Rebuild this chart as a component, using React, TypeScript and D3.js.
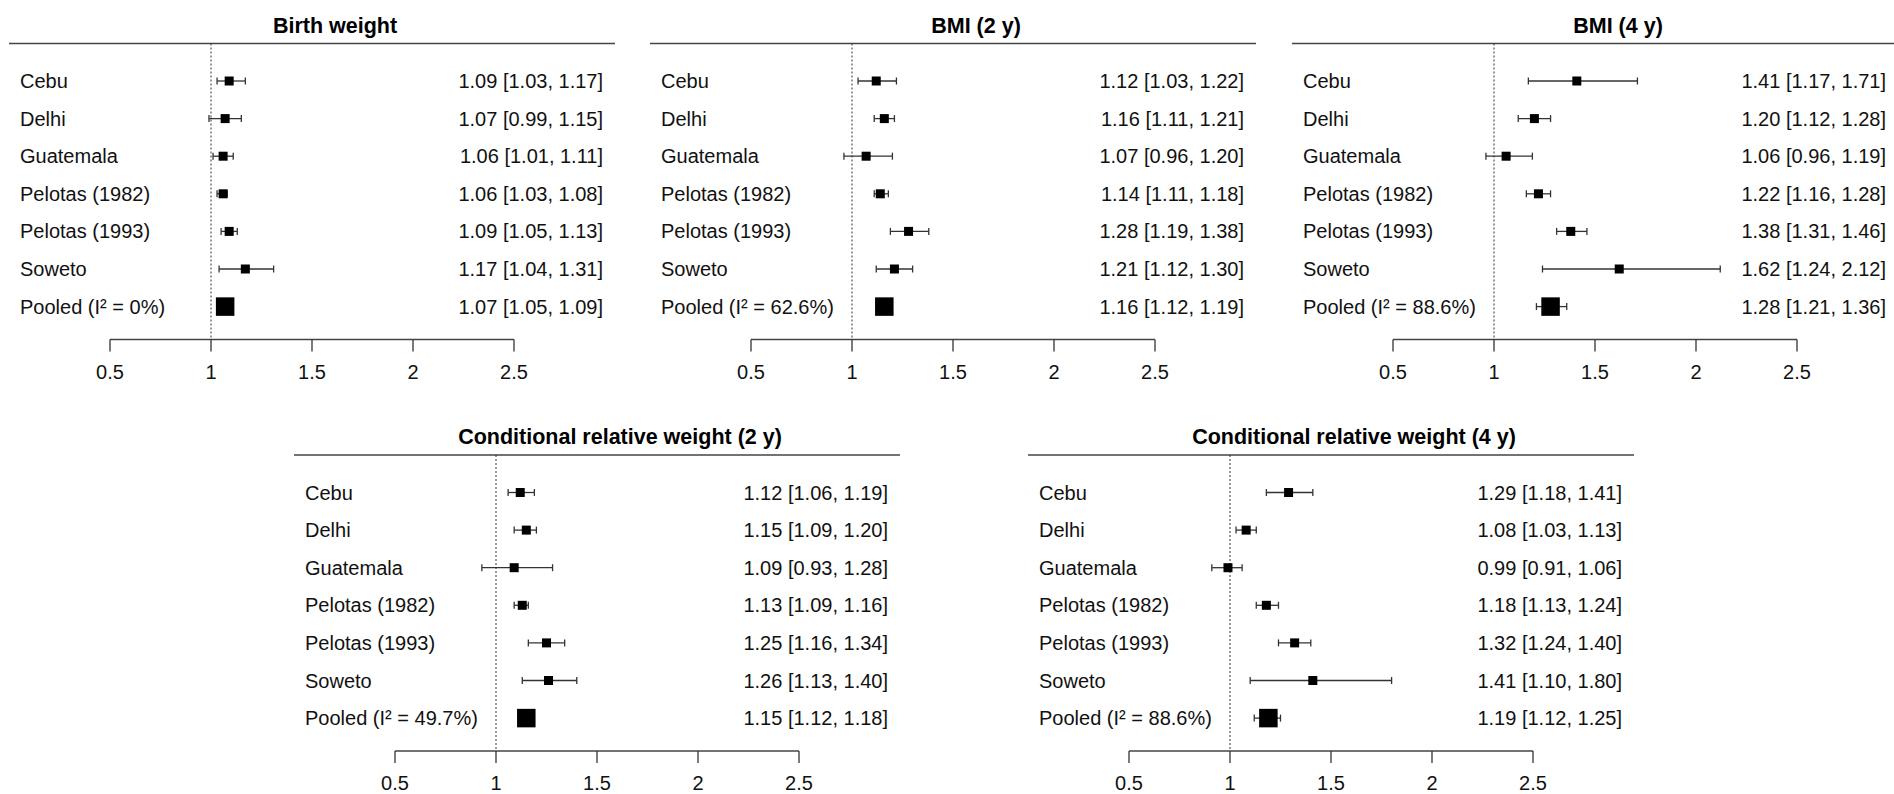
import { scaleLinear, scalePoint } from "d3";

const width = 1894;
const height = 794;

const studies = ["Cebu", "Delhi", "Guatemala", "Pelotas (1982)", "Pelotas (1993)", "Soweto"];
const titles = [
  "Birth weight",
  "BMI (2 y)",
  "BMI (4 y)",
  "Conditional relative weight (2 y)",
  "Conditional relative weight (4 y)",
];
const i2Values = ["0%", "62.6%", "88.6%", "49.7%", "88.6%"];

// estimate / lower / upper, last entry is the pooled one
const bwEst = [1.09, 1.07, 1.06, 1.06, 1.09, 1.17, 1.07];
const bwLo = [1.03, 0.99, 1.01, 1.03, 1.05, 1.04, 1.05];
const bwHi = [1.17, 1.15, 1.11, 1.08, 1.13, 1.31, 1.09];

const bmi2Est = [1.12, 1.16, 1.07, 1.14, 1.28, 1.21, 1.16];
const bmi2Lo = [1.03, 1.11, 0.96, 1.11, 1.19, 1.12, 1.12];
const bmi2Hi = [1.22, 1.21, 1.2, 1.18, 1.38, 1.3, 1.19];

const bmi4Est = [1.41, 1.2, 1.06, 1.22, 1.38, 1.62, 1.28];
const bmi4Lo = [1.17, 1.12, 0.96, 1.16, 1.31, 1.24, 1.21];
const bmi4Hi = [1.71, 1.28, 1.19, 1.28, 1.46, 2.12, 1.36];

const crw2Est = [1.12, 1.15, 1.09, 1.13, 1.25, 1.26, 1.15];
const crw2Lo = [1.06, 1.09, 0.93, 1.09, 1.16, 1.13, 1.12];
const crw2Hi = [1.19, 1.2, 1.28, 1.16, 1.34, 1.4, 1.18];

const crw4Est = [1.29, 1.08, 0.99, 1.18, 1.32, 1.41, 1.19];
const crw4Lo = [1.18, 1.03, 0.91, 1.13, 1.24, 1.1, 1.12];
const crw4Hi = [1.41, 1.13, 1.06, 1.24, 1.4, 1.8, 1.25];

const tickValues = [0.5, 1, 1.5, 2, 2.5];
const tickLabels = ["0.5", "1", "1.5", "2", "2.5"];

const series = [
  { est: bwEst, lo: bwLo, hi: bwHi },
  { est: bmi2Est, lo: bmi2Lo, hi: bmi2Hi },
  { est: bmi4Est, lo: bmi4Lo, hi: bmi4Hi },
  { est: crw2Est, lo: crw2Lo, hi: crw2Hi },
  { est: crw4Est, lo: crw4Lo, hi: crw4Hi },
];

// panel placement: left edge of top rule, y of top rule
const placement = [
  { left: 9, top: 43.5 },
  { left: 650, top: 43.5 },
  { left: 1292, top: 43.5 },
  { left: 294, top: 455 },
  { left: 1028, top: 455 },
];

const font = "'Liberation Sans', Arial, sans-serif";
const fmt = (v: number) => v.toFixed(2);

function Panel({ idx }: { idx: number }) {
  const { left, top } = placement[idx];
  const { est, lo, hi } = series[idx];
  const rows = [...studies, `Pooled (I² = ${i2Values[idx]})`];

  const xScale = scaleLinear().domain([0.5, 2.5]).range([left + 101, left + 505]);
  const yScale = scalePoint<string>()
    .domain(rows)
    .range([top + 37.5, top + 37.5 + 6 * 37.6]);
  const axisY = top + 296;

  return (
    <g>
      <text
        x={left + 326}
        y={top - 18}
        textAnchor="middle"
        dominantBaseline="central"
        fontFamily={font}
        fontWeight="bold"
        fontSize={21.5}
        fill="#000"
      >
        {titles[idx]}
      </text>
      <line x1={left} x2={Math.min(left + 606, width)} y1={top} y2={top} stroke="#444" strokeWidth={1.6} />
      <line
        x1={xScale(1)}
        x2={xScale(1)}
        y1={top}
        y2={axisY}
        stroke="#333"
        strokeWidth={1}
        strokeDasharray="2,2"
      />
      {rows.map((r, i) => {
        const y = yScale(r)!;
        const pooled = i === rows.length - 1;
        const size = pooled ? 18.5 : 9;
        return (
          <g key={r}>
            <text x={left + 11} y={y} dominantBaseline="central" fontFamily={font} fontSize={20} fill="#111">
              {r}
            </text>
            <text
              x={left + 594}
              y={y}
              textAnchor="end"
              dominantBaseline="central"
              fontFamily={font}
              fontSize={20}
              fill="#111"
            >
              {`${fmt(est[i])} [${fmt(lo[i])}, ${fmt(hi[i])}]`}
            </text>
            <line x1={xScale(lo[i])} x2={xScale(hi[i])} y1={y} y2={y} stroke="#333" strokeWidth={1.3} />
            <line x1={xScale(lo[i])} x2={xScale(lo[i])} y1={y - 3.5} y2={y + 3.5} stroke="#333" strokeWidth={1.3} />
            <line x1={xScale(hi[i])} x2={xScale(hi[i])} y1={y - 3.5} y2={y + 3.5} stroke="#333" strokeWidth={1.3} />
            <rect x={xScale(est[i]) - size / 2} y={y - size / 2} width={size} height={size} fill="#000" />
          </g>
        );
      })}
      <line x1={xScale(0.5)} x2={xScale(2.5)} y1={axisY} y2={axisY} stroke="#444" strokeWidth={1.5} />
      {tickValues.map((t, i) => (
        <g key={t}>
          <line x1={xScale(t)} x2={xScale(t)} y1={axisY} y2={axisY + 12} stroke="#333" strokeWidth={1.3} />
          <text
            x={xScale(t)}
            y={axisY + 32}
            textAnchor="middle"
            dominantBaseline="central"
            fontFamily={font}
            fontSize={20}
            fill="#111"
          >
            {tickLabels[i]}
          </text>
        </g>
      ))}
    </g>
  );
}

export default function App() {
  return (
    <svg
      width={width}
      height={height}
      style={{ position: "absolute", left: 0, top: 0, background: "#fff" }}
    >
      {placement.map((_, i) => (
        <Panel key={i} idx={i} />
      ))}
    </svg>
  );
}
